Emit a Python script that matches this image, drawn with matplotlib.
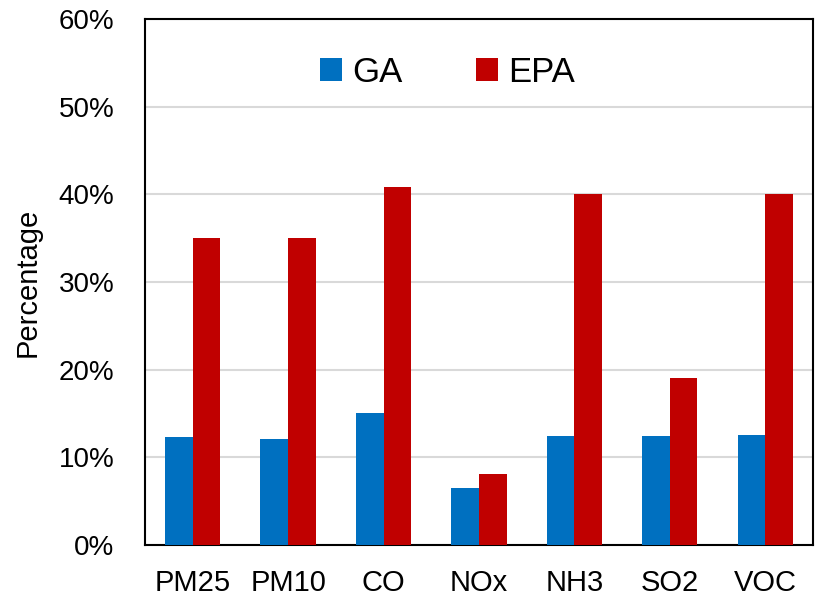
import numpy as np
import matplotlib
matplotlib.use('Agg')
import matplotlib.pyplot as plt
from matplotlib.ticker import PercentFormatter

plt.rcParams['font.family'] = ['Liberation Sans', 'DejaVu Sans']

# values (%)
pollutants = ['PM25', 'PM10', 'CO', 'NOx', 'NH3', 'SO2', 'VOC']
ga = [12.3, 12.1, 15.1, 6.5, 12.4, 12.4, 12.5]
epa = [35.0, 35.0, 40.8, 8.1, 40.0, 19.0, 40.0]

fig = plt.figure(figsize=(8.17, 6), dpi=100)
ax = fig.add_axes([0.1775, 0.0917, 0.8175, 0.8766])

x = np.arange(len(pollutants))
w = 0.29
ax.bar(x - w/2, ga, w, color='#0070C0', label='GA', zorder=3)
ax.bar(x + w/2, epa, w, color='#C00000', label='EPA', zorder=3)

ax.set_xlim(-0.5, len(pollutants) - 0.5)
ax.set_ylim(0, 60)
ax.set_yticks(np.arange(0, 61, 10))
ax.yaxis.set_major_formatter(PercentFormatter(decimals=0))
ax.yaxis.grid(True, color='#d9d9d9', linewidth=1.5, zorder=0)
ax.set_xticks(x)
ax.set_xticklabels(pollutants, fontsize=21)
ax.tick_params(axis='x', length=0, pad=17)
ax.tick_params(axis='y', length=0, labelsize=20, pad=22)
for s in ax.spines.values():
    s.set_color('black')
    s.set_linewidth(1.5)
ax.set_ylabel('Percentage', fontsize=21, labelpad=12)

ax.legend(loc='upper center', bbox_to_anchor=(0.453, 0.99), ncol=2, frameon=False,
          fontsize=25, handlelength=0.63, handleheight=0.63, columnspacing=2.1,
          handletextpad=0.3)

plt.savefig('out.png', dpi=100)
